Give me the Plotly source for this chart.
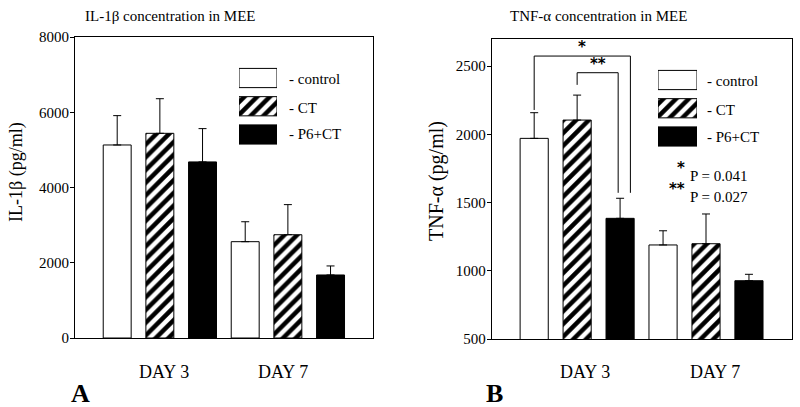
import plotly.graph_objects as go

# ---------------- data ----------------
groups = ["DAY 3", "DAY 7"]
series_names = ["control", "CT", "P6+CT"]

il1b_control = [5130, 2560]
il1b_ct = [5440, 2745]
il1b_p6ct = [4680, 1675]
il1b_control_sd = [780, 530]
il1b_ct_sd = [920, 800]
il1b_p6ct_sd = [885, 240]

tnf_control = [1970, 1189]
tnf_ct = [2104, 1198]
tnf_p6ct = [1384, 927]
tnf_control_sd = [188, 104]
tnf_ct_sd = [183, 218]
tnf_p6ct_sd = [147, 47]

il1b_ticks = [0, 2000, 4000, 6000, 8000]
tnf_ticks = [500, 1000, 1500, 2000, 2500]

p_labels = ["P = 0.041", "P = 0.027"]
p_marks = ["*", "**"]

FONT = "Liberation Serif"
W, H = 800, 407


def px_x(p):
    return p / W


def px_y(p):
    return 1 - p / H


hatch = dict(shape="/", fgcolor="black", bgcolor="white", size=9, solidity=0.5)
styles = [
    dict(color="white", pattern=dict(shape="")),
    dict(color="white", pattern=hatch),
    dict(color="black", pattern=dict(shape="")),
]

fig = go.Figure()

panels = [
    ("x", "y", [il1b_control, il1b_ct, il1b_p6ct], [il1b_control_sd, il1b_ct_sd, il1b_p6ct_sd]),
    ("x2", "y2", [tnf_control, tnf_ct, tnf_p6ct], [tnf_control_sd, tnf_ct_sd, tnf_p6ct_sd]),
]
for xa, ya, vals, sds in panels:
    for name, v, sd, st in zip(series_names, vals, sds, styles):
        fig.add_trace(go.Bar(
            x=groups, y=v, name=name, xaxis=xa, yaxis=ya, showlegend=False,
            marker=dict(color=st["color"], pattern=st["pattern"],
                        line=dict(color="black", width=1)),
            error_y=dict(type="data", array=sd, arrayminus=[0] * len(sd),
                         symmetric=False, color="black", thickness=1, width=4),
        ))

# legend swatches drawn as bars on small hidden axes (one trace per swatch)
for xa, ya in [("x3", "y3"), ("x4", "y4")]:
    for i, st in enumerate(styles):
        fig.add_trace(go.Bar(
            y=[i], x=[1], orientation="h", width=0.68, offset=-0.34,
            xaxis=xa, yaxis=ya, showlegend=False, hoverinfo="skip",
            marker=dict(color=st["color"], pattern=st["pattern"],
                        line=dict(color="black", width=1)),
        ))

axis_common = dict(showline=True, mirror=True, linecolor="black", linewidth=1,
                   showgrid=False, zeroline=False, automargin=False)
xr = [-0.663, 1.665]

fig.update_layout(
    template="none",
    width=W, height=H, margin=dict(l=0, r=0, t=0, b=0, pad=0, autoexpand=False),
    paper_bgcolor="white", plot_bgcolor="white", showlegend=False,
    barmode="group", bargap=0, bargroupgap=0.345,
    font=dict(family=FONT, color="black", size=15),
    xaxis=dict(domain=[px_x(75), px_x(373)], range=xr, ticks="", showticklabels=False,
               **axis_common),
    yaxis=dict(domain=[px_y(338), px_y(37)], range=[0, 8000], tickvals=il1b_ticks,
               ticks="outside", ticklen=4, tickcolor="black", tickfont=dict(size=15),
               ticklabelstandoff=-2, **axis_common),
    xaxis2=dict(domain=[px_x(491.7), px_x(791.7)], range=xr, ticks="", showticklabels=False,
                anchor="y2", **axis_common),
    yaxis2=dict(domain=[px_y(339), px_y(39)], range=[500, 2698], tickvals=tnf_ticks,
                ticks="outside", ticklen=4, tickcolor="black", tickfont=dict(size=15),
                ticklabelstandoff=-2, anchor="x2", **axis_common),
    xaxis3=dict(domain=[px_x(239), px_x(277)], range=[0, 1], visible=False, anchor="y3"),
    yaxis3=dict(domain=[px_y(148.6), px_y(63.9)], range=[2.5, -0.5], visible=False, anchor="x3"),
    xaxis4=dict(domain=[px_x(658), px_x(697)], range=[0, 1], visible=False, anchor="y4"),
    yaxis4=dict(domain=[px_y(150.6), px_y(65.9)], range=[2.5, -0.5], visible=False, anchor="x4"),
)

ann = []
# titles
ann.append(dict(text="IL-1β concentration in MEE", x=px_x(170), y=px_y(16)))
ann.append(dict(text="TNF-α concentration in MEE", x=px_x(598), y=px_y(16)))
# y axis titles
ann.append(dict(text="IL-1β (pg/ml)", x=px_x(17), y=px_y(172), textangle=-90, font=dict(size=18)))
ann.append(dict(text="TNF-α (pg/ml)", x=px_x(437), y=px_y(181), textangle=-90, font=dict(size=20)))
# panel letters
ann.append(dict(text="<b>A</b>", x=px_x(80), y=px_y(393), font=dict(size=26)))
ann.append(dict(text="<b>B</b>", x=px_x(494), y=px_y(393), font=dict(size=26)))
# legend labels
for cx, ys in [(287, [79, 108, 134]), (705, [81, 110, 137])]:
    for nm, yy in zip(series_names, ys):
        ann.append(dict(text="- " + nm, x=px_x(cx), y=px_y(yy), xanchor="left"))
for a in ann:
    a.setdefault("xref", "paper")
    a.setdefault("yref", "paper")
    a.setdefault("showarrow", False)
    a.setdefault("xanchor", "center")
    a.setdefault("yanchor", "middle")

# group (x axis) labels
for xa, shifts in [("x", [4, -5]), ("x2", [8, 9])]:
    for g, s in zip(groups, shifts):
        ann.append(dict(text=g, x=groups.index(g), xref=xa, y=px_y(372), yref="paper",
                        xshift=s, showarrow=False, font=dict(size=18),
                        xanchor="center", yanchor="middle"))

star_font = dict(size=15, family="DejaVu Sans")
# p-value notes
for mark, lab, yy in zip(p_marks, p_labels, [176, 197]):
    ann.append(dict(text=lab, x=px_x(687.7), y=px_y(yy), xref="paper", yref="paper",
                    xanchor="left", yanchor="middle", showarrow=False, font=dict(size=15)))
    ann.append(dict(text="<b>" + mark + "</b>", x=px_x(687), y=px_y(yy - 8), xref="paper",
                    yref="paper", xanchor="right", yanchor="middle", showarrow=False,
                    font=star_font))

# significance brackets on TNF panel (x in category units: group + offset)
off = 1 / 3
b1_left, b1_right = -off, off + 0.08
b2_left, b2_right = 0.0, off - 0.015
b_bottom = tnf_p6ct[0] + tnf_p6ct_sd[0] + 40
b1_top, b2_top = 2573, 2451
shapes = [
    dict(type="path", xref="x2", yref="y2",
         path=f"M {b1_left},{tnf_control[0] + tnf_control_sd[0] + 20} L {b1_left},{b1_top} "
              f"L {b1_right},{b1_top} L {b1_right},{b_bottom}",
         line=dict(color="black", width=1)),
    dict(type="path", xref="x2", yref="y2",
         path=f"M {b2_left},{tnf_ct[0] + tnf_ct_sd[0] + 75} L {b2_left},{b2_top} "
              f"L {b2_right},{b2_top} L {b2_right},{b_bottom}",
         line=dict(color="black", width=1)),
]
ann.append(dict(text="<b>*</b>", x=(b1_left + b1_right) / 2, y=b1_top, xref="x2", yref="y2",
                yanchor="bottom", showarrow=False, yshift=-2, font=star_font))
ann.append(dict(text="<b>**</b>", x=(b2_left + b2_right) / 2, y=b2_top, xref="x2", yref="y2",
                yanchor="bottom", showarrow=False, yshift=-2, font=star_font))

fig.update_layout(annotations=ann, shapes=shapes)
fig.write_html("out.html", config={"displayModeBar": False},
               post_script="document.body.style.margin='0px';document.body.style.overflow='hidden';")
